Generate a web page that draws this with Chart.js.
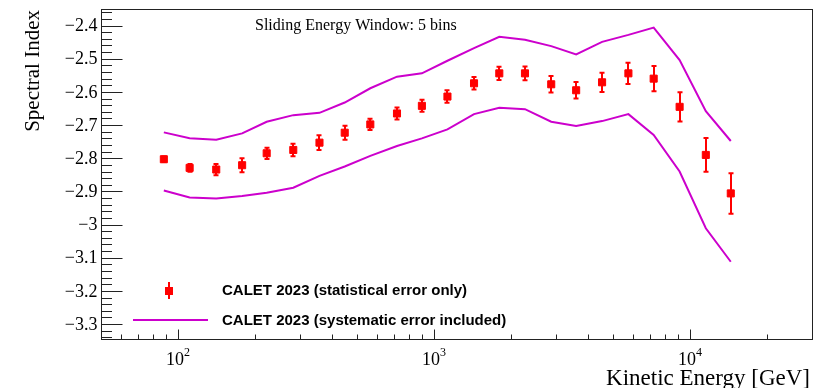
<!DOCTYPE html>
<html><head><meta charset="utf-8">
<script src="https://cdn.jsdelivr.net/npm/chart.js@4/dist/chart.umd.min.js"></script>
<style>html,body{margin:0;padding:0;background:#fff;overflow:hidden}#wrap{width:828px;height:388px;position:relative}</style>
</head><body><div id="wrap"><canvas id="c" width="828" height="388"></canvas></div>
<script>
// ---- data ----
const energies = [88, 111, 141, 178, 222, 282, 357, 448, 564, 717, 897, 1129, 1434, 1800, 2268, 2872, 3594, 4538, 5751, 7219, 9117, 11541, 14446];
const spectralIndex = [-2.803, -2.829, -2.834, -2.821, -2.785, -2.775, -2.753, -2.723, -2.698, -2.665, -2.642, -2.614, -2.574, -2.544, -2.544, -2.577, -2.595, -2.571, -2.544, -2.560, -2.645, -2.790, -2.906];
const statError = [0.008, 0.012, 0.017, 0.021, 0.017, 0.019, 0.022, 0.021, 0.017, 0.018, 0.018, 0.019, 0.019, 0.020, 0.021, 0.025, 0.025, 0.029, 0.032, 0.038, 0.044, 0.051, 0.061];
const sysUpper = [-2.722, -2.740, -2.744, -2.725, -2.690, -2.670, -2.663, -2.632, -2.589, -2.554, -2.544, -2.506, -2.468, -2.434, -2.443, -2.462, -2.487, -2.449, -2.428, -2.406, -2.504, -2.658, -2.748];
const sysLower = [-2.897, -2.918, -2.921, -2.914, -2.904, -2.889, -2.853, -2.825, -2.793, -2.763, -2.740, -2.713, -2.667, -2.648, -2.652, -2.690, -2.703, -2.688, -2.667, -2.730, -2.840, -3.011, -3.112];

const yMajorTicks = [-3.3, -3.2, -3.1, -3.0, -2.9, -2.8, -2.7, -2.6, -2.5, -2.4];
const yTickLabels = ['\u22123.3', '\u22123.2', '\u22123.1', '\u22123', '\u22122.9', '\u22122.8', '\u22122.7', '\u22122.6', '\u22122.5', '\u22122.4'];
const xMajorTicks = [100, 1000, 10000];
const xTickExponents = ['2', '3', '4'];
const xMinorTicks = [60, 70, 80, 90, 200, 300, 400, 500, 600, 700, 800, 900, 2000, 3000, 4000, 5000, 6000, 7000, 8000, 9000, 20000];

const titleText = 'Sliding Energy Window: 5 bins';
const yTitle = 'Spectral Index';
const xTitle = 'Kinetic Energy [GeV]';
const legendStat = 'CALET 2023 (statistical error only)';
const legendSys = 'CALET 2023 (systematic error included)';

const RED = '#ff0000';
const MAG = '#cc00cc';
const SERIF = '"Liberation Serif", "DejaVu Serif", serif';
const SANS = '"Liberation Sans", Arial, sans-serif';

const pts = (ys) => energies.map((e, i) => ({x: e, y: ys[i]}));

const rootPlugin = {
  id: 'rootStyle',
  beforeDatasetsDraw(chart) {
    const ctx = chart.ctx, xs = chart.scales.x, ys = chart.scales.y;
    ctx.save();
    ctx.strokeStyle = RED;
    ctx.lineWidth = 2;
    energies.forEach((e, i) => {
      const px = Math.round(xs.getPixelForValue(e));
      const yt = ys.getPixelForValue(spectralIndex[i] + statError[i]);
      const yb = ys.getPixelForValue(spectralIndex[i] - statError[i]);
      ctx.beginPath();
      ctx.moveTo(px, yt); ctx.lineTo(px, yb);
      ctx.moveTo(px - 2.5, yt); ctx.lineTo(px + 2.5, yt);
      ctx.moveTo(px - 2.5, yb); ctx.lineTo(px + 2.5, yb);
      ctx.stroke();
    });
    ctx.restore();
  },
  afterDraw(chart) {
    const ctx = chart.ctx, xs = chart.scales.x, ys = chart.scales.y;
    const a = chart.chartArea;
    const L = Math.round(a.left) + 0.5, R = Math.round(a.right) + 0.5;
    const T = Math.round(a.top) + 0.5, B = Math.round(a.bottom) + 0.5;
    ctx.save();
    // frame
    ctx.strokeStyle = '#222';
    ctx.lineWidth = 1;
    ctx.strokeRect(L, T, R - L, B - T);
    // y ticks
    ctx.beginPath();
    const yMin = ys.min, yMax = ys.max;
    yMajorTicks.forEach(v => {
      const py = Math.round(ys.getPixelForValue(v)) + 0.5;
      ctx.moveTo(L, py); ctx.lineTo(L + 21, py);
    });
    for (let k = -3.34; k <= -2.35 + 1e-9; k += 0.02) {
      const v = Math.round(k * 100) / 100;
      if (v < yMin || v > yMax) continue;
      const py = Math.round(ys.getPixelForValue(v)) + 0.5;
      ctx.moveTo(L, py); ctx.lineTo(L + 10.5, py);
    }
    // x ticks
    xMajorTicks.forEach(v => {
      const px = Math.round(xs.getPixelForValue(v)) + 0.5;
      ctx.moveTo(px, B); ctx.lineTo(px, B - 10);
    });
    xMinorTicks.forEach(v => {
      const px = Math.round(xs.getPixelForValue(v)) + 0.5;
      ctx.moveTo(px, B); ctx.lineTo(px, B - 5);
    });
    ctx.stroke();

    // y tick labels
    ctx.fillStyle = '#000';
    ctx.font = '18px ' + SERIF;
    ctx.textAlign = 'right';
    ctx.textBaseline = 'middle';
    yMajorTicks.forEach((v, i) => {
      ctx.fillText(yTickLabels[i], L - 4, ys.getPixelForValue(v) + 1);
    });
    // x tick labels (10^n)
    xMajorTicks.forEach((v, i) => {
      const px = xs.getPixelForValue(v);
      ctx.font = '18px ' + SERIF;
      ctx.textAlign = 'left';
      ctx.textBaseline = 'alphabetic';
      const w10 = ctx.measureText('10').width;
      ctx.font = '12px ' + SERIF;
      const we = ctx.measureText(xTickExponents[i]).width;
      const x0 = px - (w10 + we) / 2;
      ctx.font = '18px ' + SERIF;
      ctx.fillText('10', x0, 365);
      ctx.font = '12px ' + SERIF;
      ctx.fillText(xTickExponents[i], x0 + w10, 356);
    });
    // axis titles
    ctx.font = '23px ' + SERIF;
    ctx.textAlign = 'right';
    ctx.textBaseline = 'alphabetic';
    ctx.fillText(xTitle, 810, 385);
    ctx.save();
    ctx.font = '21px ' + SERIF;
    ctx.translate(39, 10);
    ctx.rotate(-Math.PI / 2);
    ctx.textAlign = 'right';
    ctx.fillText(yTitle, 0, 0);
    ctx.restore();
    // title
    ctx.font = '16px ' + SERIF;
    ctx.textAlign = 'left';
    ctx.textBaseline = 'middle';
    ctx.fillText(titleText, 255, 26);

    // legend
    ctx.font = 'bold 15px ' + SANS;
    ctx.textAlign = 'left';
    ctx.textBaseline = 'middle';
    ctx.fillText(legendStat, 222, 291);
    ctx.fillText(legendSys, 222, 321);
    ctx.strokeStyle = RED;
    ctx.lineWidth = 2;
    ctx.beginPath();
    ctx.moveTo(169, 282); ctx.lineTo(169, 299);
    ctx.stroke();
    ctx.fillStyle = RED;
    ctx.fillRect(165, 287, 8, 8);
    ctx.strokeStyle = MAG;
    ctx.lineWidth = 2;
    ctx.beginPath();
    ctx.moveTo(133, 320); ctx.lineTo(208, 320);
    ctx.stroke();
    ctx.restore();
  }
};

new Chart(document.getElementById('c'), {
  type: 'scatter',
  data: {
    datasets: [
      {
        label: legendStat,
        data: pts(spectralIndex),
        pointStyle: 'rect',
        pointRadius: 5,
        pointBackgroundColor: RED,
        pointBorderColor: RED,
        pointBorderWidth: 1,
        showLine: false
      },
      {
        label: legendSys,
        data: pts(sysUpper),
        showLine: true,
        borderColor: MAG,
        borderWidth: 2,
        pointRadius: 0,
        tension: 0,
        fill: false
      },
      {
        label: legendSys + ' lower',
        data: pts(sysLower),
        showLine: true,
        borderColor: MAG,
        borderWidth: 2,
        pointRadius: 0,
        tension: 0,
        fill: false
      }
    ]
  },
  options: {
    responsive: false,
    animation: false,
    devicePixelRatio: 1,
    layout: {padding: {left: 101, top: 9, right: 16, bottom: 49}},
    plugins: {legend: {display: false}, tooltip: {enabled: false}, title: {display: false}},
    scales: {
      x: {type: 'logarithmic', min: 50, max: 30000, display: false},
      y: {type: 'linear', min: -3.345, max: -2.35, display: false}
    }
  },
  plugins: [rootPlugin]
});
</script>
</body></html>
